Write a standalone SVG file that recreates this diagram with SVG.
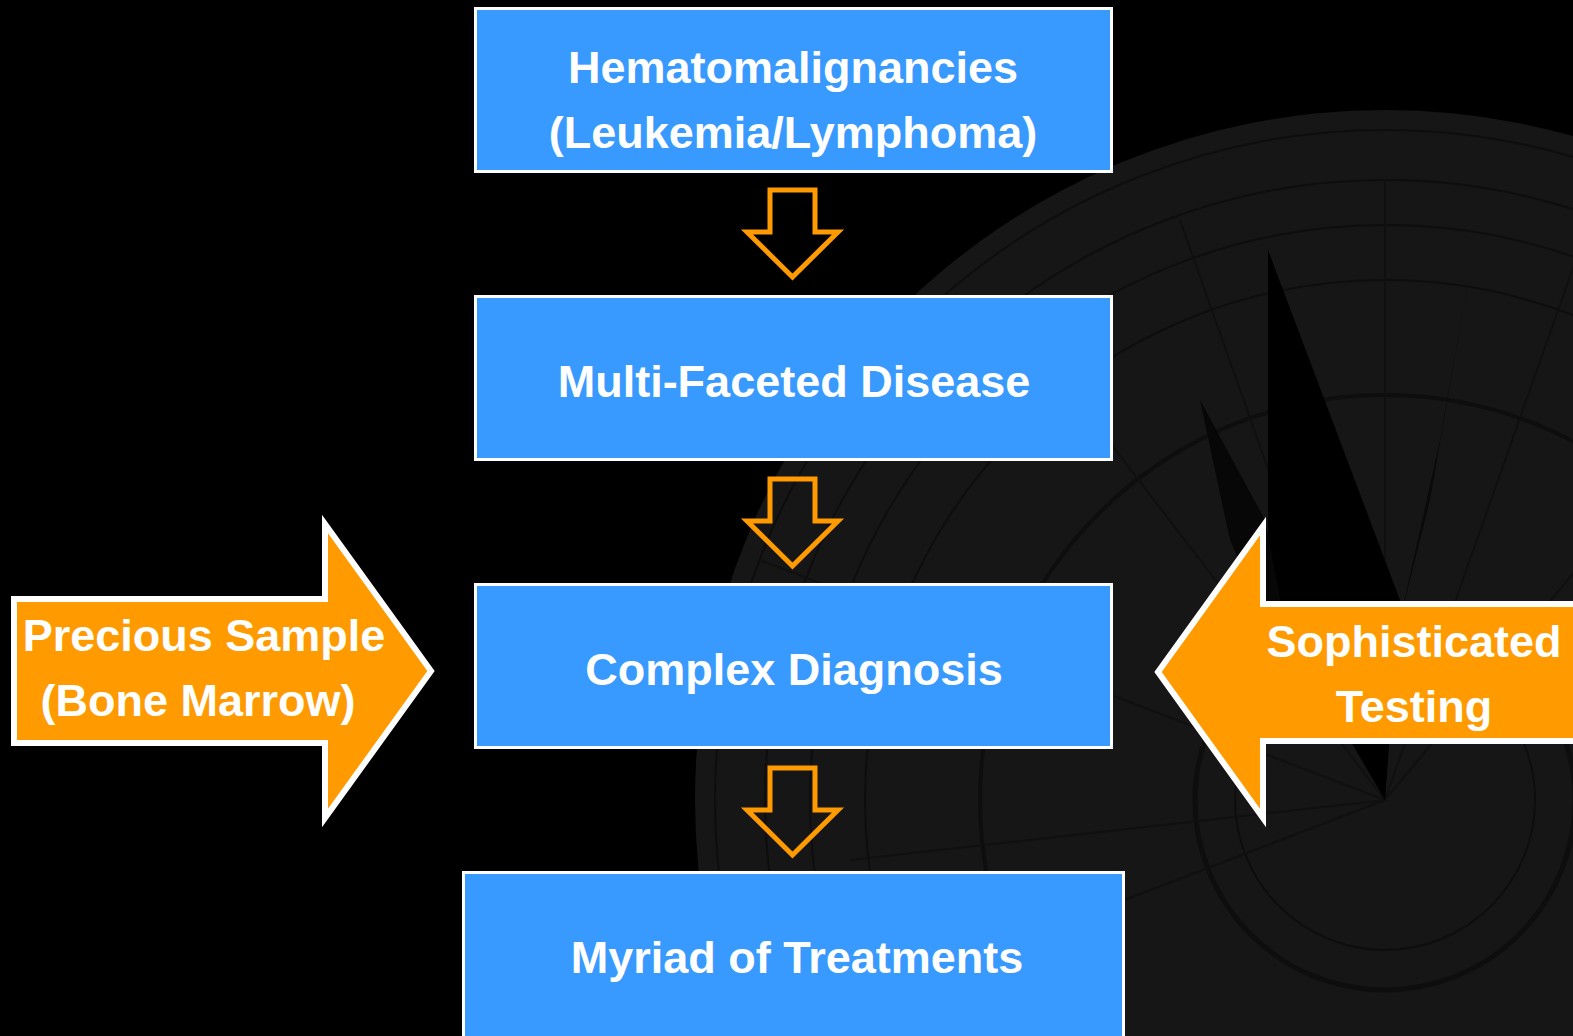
<svg xmlns="http://www.w3.org/2000/svg" width="1573" height="1036" viewBox="0 0 1573 1036">
<style>
.box{fill:#3899ff;stroke:#ffffff;stroke-width:3}
.btxt{font-family:"Liberation Sans",Arial,sans-serif;font-weight:bold;font-size:45px;fill:#ffffff;text-anchor:middle}
.side{fill:#ff9a00;stroke:#ffffff;stroke-width:6;stroke-linejoin:miter}
.down{fill:none;stroke:#ff9a00;stroke-width:5;stroke-linejoin:miter}
.ring{fill:none;stroke:#0e0e0e}
.ray{stroke:#101010;stroke-width:2}
</style>
<rect width="1573" height="1036" fill="#000000"/>
<g id="background-compass">
  <circle cx="1385" cy="800" r="690" fill="#161616"/>
  <circle cx="1385" cy="800" r="670" class="ring" stroke-width="2"/>
  <circle cx="1385" cy="800" r="620" class="ring" stroke-width="2"/>
  <circle cx="1385" cy="800" r="575" class="ring" stroke-width="2"/>
  <circle cx="1385" cy="800" r="520" class="ring" stroke-width="2"/>
  <circle cx="1385" cy="800" r="405" class="ring" stroke-width="4"/>
  <circle cx="1385" cy="800" r="190" class="ring" stroke-width="5"/>
  <circle cx="1385" cy="800" r="150" class="ring" stroke-width="2"/>
  <g>
    <line x1="1385" y1="800" x2="1385" y2="180" class="ray"/>
    <line x1="1385" y1="800" x2="1800" y2="300" class="ray"/>
    <line x1="1385" y1="800" x2="1000" y2="300" class="ray"/>
    <line x1="1385" y1="800" x2="760" y2="560" class="ray"/>
    <line x1="1385" y1="800" x2="760" y2="1040" class="ray"/>
    <line x1="1385" y1="800" x2="1180" y2="220" class="ray"/>
    <line x1="1385" y1="800" x2="1590" y2="220" class="ray"/>
    <line x1="1385" y1="800" x2="850" y2="860" class="ray"/>
  </g>
  <polygon points="1268,250 1400,600 1385,800 1268,600" fill="#000000"/>
  <polygon points="1200,400 1265,520 1300,700 1230,540" fill="#070707"/>
  <polygon points="1470,270 1430,500 1400,620 1440,440" fill="#0a0a0a"/>
</g>
<g id="connectors">
  <path class="down" d="M770,190 H815 V232 H838 L792.5,277 L747,232 H770 Z"/>
  <path class="down" d="M770,479 H815 V521 H838 L792.5,566 L747,521 H770 Z"/>
  <path class="down" d="M770,768 H815 V810 H838 L792.5,855 L747,810 H770 Z"/>
</g>
<g id="node-hematomalignancies">
  <rect class="box" x="475.5" y="8.5" width="636" height="163"/>
  <text class="btxt" x="793" y="83">Hematomalignancies</text>
  <text class="btxt" x="793" y="148">(Leukemia/Lymphoma)</text>
</g>
<g id="node-multifaceted">
  <rect class="box" x="475.5" y="296.5" width="636" height="163"/>
  <text class="btxt" x="794" y="397">Multi-Faceted Disease</text>
</g>
<g id="node-complex-diagnosis">
  <rect class="box" x="475.5" y="584.5" width="636" height="163"/>
  <text class="btxt" x="794" y="685">Complex Diagnosis</text>
</g>
<g id="node-myriad">
  <rect class="box" x="463.5" y="872.5" width="660" height="180"/>
  <text class="btxt" x="797" y="973">Myriad of Treatments</text>
</g>
<g id="node-precious-sample">
  <polygon class="side" points="14,599 325,599 325,524 431,671 325,818 325,743 14,743"/>
  <text class="btxt" x="204" y="651">Precious Sample</text>
  <text class="btxt" x="198" y="716">(Bone Marrow)</text>
</g>
<g id="node-sophisticated-testing">
  <polygon class="side" points="1580,604 1263,604 1263,526 1158,672 1263,818 1263,741 1580,741"/>
  <text class="btxt" x="1414" y="657">Sophisticated</text>
  <text class="btxt" x="1414" y="722">Testing</text>
</g>
</svg>
